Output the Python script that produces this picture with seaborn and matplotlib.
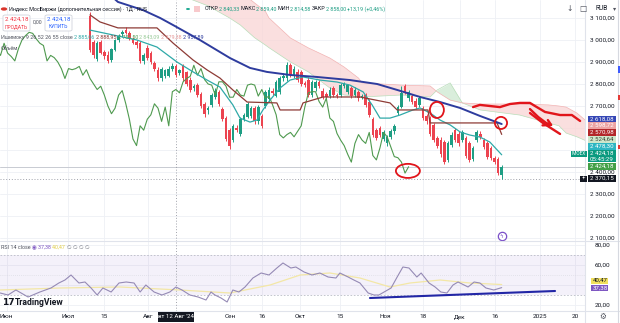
import matplotlib
matplotlib.use("Agg")
import matplotlib.pyplot as plt
from matplotlib.patches import Rectangle, Ellipse, FancyBboxPatch, Circle
import numpy as np
import pandas as pd
import seaborn as sns

sns.set_theme(style="white")
plt.rcParams["font.family"] = ["Roboto", "DejaVu Sans"]

# ---------------- daily candles (bar 0 = 9 Jul 2024, last bar = 18 Dec 2024)
opens = [3110, 2990, 2915, 2990, 2945, 2930, 2910, 2955, 3000, 3025,
         3045, 3030, 3005, 2990, 2985, 2905, 2965, 2940, 2895, 2865,
         2825, 2835, 2835, 2870, 2880, 2850, 2880, 2855, 2820, 2780,
         2795, 2755, 2710, 2680, 2705, 2740, 2765, 2685, 2645, 2590,
         2545, 2600, 2575, 2640, 2650, 2655, 2690, 2630, 2655, 2700,
         2730, 2770, 2745, 2765, 2825, 2825, 2885, 2835, 2855, 2855,
         2805, 2820, 2750, 2780, 2810, 2770, 2755, 2745, 2780, 2750,
         2750, 2790, 2765, 2780, 2750, 2765, 2740, 2750, 2720, 2640,
         2590, 2600, 2550, 2530, 2560, 2585, 2670, 2695, 2790, 2735,
         2745, 2725, 2705, 2690, 2655, 2645, 2615, 2555, 2545, 2535,
         2455, 2525, 2590, 2575, 2545, 2555, 2530, 2460, 2545, 2575,
         2545, 2530, 2510, 2465, 2460, 2385]
highs = [3125, 3000, 2995, 3000, 2955, 2950, 2965, 3005, 3025, 3045,
         3060, 3040, 3015, 3000, 2995, 2940, 2975, 2950, 2905, 2875,
         2875, 2870, 2880, 2895, 2890, 2870, 2890, 2860, 2830, 2800,
         2805, 2765, 2720, 2700, 2760, 2780, 2775, 2695, 2655, 2600,
         2620, 2615, 2650, 2670, 2720, 2700, 2700, 2705, 2665, 2775,
         2785, 2780, 2820, 2835, 2850, 2900, 2895, 2880, 2870, 2865,
         2815, 2830, 2820, 2820, 2820, 2780, 2765, 2785, 2790, 2760,
         2805, 2810, 2800, 2790, 2785, 2775, 2755, 2760, 2730, 2650,
         2600, 2610, 2590, 2570, 2595, 2620, 2705, 2790, 2800, 2775,
         2755, 2735, 2745, 2700, 2665, 2655, 2625, 2565, 2560, 2545,
         2540, 2580, 2600, 2585, 2590, 2565, 2540, 2520, 2590, 2585,
         2555, 2540, 2520, 2475, 2470, 2430]
lows = [2945, 2920, 2905, 2935, 2915, 2895, 2900, 2950, 2990, 3015,
        3025, 3000, 2980, 2965, 2895, 2890, 2910, 2890, 2860, 2815,
        2815, 2825, 2830, 2860, 2830, 2840, 2815, 2790, 2765, 2770,
        2740, 2690, 2650, 2665, 2695, 2730, 2700, 2630, 2540, 2505,
        2535, 2580, 2565, 2630, 2645, 2645, 2620, 2620, 2600, 2690,
        2720, 2750, 2740, 2755, 2815, 2815, 2830, 2825, 2810, 2790,
        2785, 2740, 2740, 2770, 2780, 2730, 2730, 2735, 2740, 2735,
        2740, 2780, 2755, 2735, 2740, 2725, 2730, 2695, 2650, 2560,
        2545, 2560, 2540, 2520, 2550, 2575, 2660, 2690, 2755, 2725,
        2710, 2685, 2695, 2635, 2620, 2565, 2535, 2510, 2470, 2435,
        2445, 2515, 2535, 2520, 2535, 2465, 2445, 2450, 2535, 2550,
        2505, 2460, 2455, 2435, 2385, 2370.15]
closes = [2955, 2930, 2985, 2940, 2925, 2905, 2960, 3000, 3020, 3035,
          3030, 3005, 2985, 2975, 2905, 2930, 2920, 2900, 2870, 2825,
          2870, 2865, 2870, 2880, 2840, 2865, 2825, 2800, 2775, 2790,
          2750, 2700, 2665, 2690, 2750, 2770, 2710, 2640, 2550, 2520,
          2610, 2590, 2640, 2660, 2710, 2690, 2630, 2695, 2610, 2765,
          2775, 2760, 2810, 2825, 2835, 2885, 2840, 2870, 2820, 2800,
          2795, 2750, 2810, 2810, 2790, 2740, 2740, 2775, 2750, 2745,
          2795, 2800, 2795, 2745, 2775, 2735, 2745, 2705, 2660, 2570,
          2555, 2570, 2580, 2560, 2585, 2610, 2695, 2760, 2765, 2765,
          2720, 2695, 2735, 2645, 2630, 2575, 2545, 2520, 2480, 2445,
          2530, 2570, 2545, 2530, 2580, 2475, 2455, 2510, 2580, 2560,
          2515, 2470, 2465, 2445, 2395, 2424.18]

# ---------------- Ichimoku (9, 26, 52) and the long moving average
tenkan_x = [0, 6.4, 13.1, 18.7, 24.3, 28.8, 32.7, 36.3, 39.9, 41.9, 44.7, 46.6,
            48.3, 50.3, 53.1, 55.9, 59.5, 64.2, 69.0, 72.6, 76.3, 78.8, 81.0,
            83.8, 86.6, 90.2, 92.2, 95.0, 97.8, 100.6, 103.4, 106.1, 108.9,
            111.7, 115]
tenkan_v = [3045, 3023, 3000, 2968, 2900, 2855, 2818, 2786, 2705, 2645, 2627, 2636,
            2682, 2727, 2782, 2818, 2832, 2818, 2809, 2795, 2764, 2705, 2645,
            2645, 2659, 2682, 2691, 2668, 2636, 2614, 2582, 2568, 2559,
            2536, 2478.30]
kijun_x = [0, 2.8, 7.8, 18.7, 23.2, 28.8, 32.7, 36.3, 39.9, 43.9, 52.2, 53.1,
           58.7, 59.5, 65.1, 75.4, 83.8, 85.8, 94.4, 95.0, 113.7, 115]
kijun_v = [3114, 3082, 3055, 3055, 2986, 2909, 2864, 2827, 2773, 2718, 2714, 2682,
           2682, 2714, 2741, 2741, 2714, 2682, 2682, 2623, 2623, 2570.98]
ma_x = [5.6, 7.8, 14.8, 19.6, 23.2, 30.7, 39.1, 44.7, 49.4, 55.9, 63.4, 72.6,
        80.2, 85.8, 92.2, 97.8, 103.4, 108.9, 115]
ma_v = [3205, 3173, 3136, 3100, 3068, 3000, 2918, 2873, 2855, 2841, 2832, 2818,
        2800, 2773, 2741, 2718, 2691, 2655, 2618.08]
cloud_x = [25, 33, 39, 42, 46, 49, 50, 56, 61, 67, 71, 75, 76, 87, 95, 97,
           100.6, 104, 109, 120, 128, 131, 133, 136, 141]
span_a = [3205, 3155, 3100, 3068, 3010, 2977, 2965, 2900, 2855, 2782, 2750, 2745,
          2741, 2750, 2741, 2773, 2805, 2714, 2682, 2659, 2623, 2610, 2577, 2560,
          2524.64]
span_b = [3364, 3290, 3250, 3220, 3168, 3130, 3100, 3009, 2964, 2918, 2877, 2827,
          2805, 2795, 2791, 2764, 2727, 2714, 2709, 2709, 2705, 2700, 2695, 2668,
          2598.72]
lag_shift = 26

# ---------------- RSI 14 and its moving average
rsi_x = [-25.1, -22.9, -20.7, -17.3, -14.0, -10.9, -8.7, -7.0, -5.3, -3.1, -1.4,
         0.3, 2.0, 3.6, 5.9, 8.1, 10.1, 12.3, 14.0, 15.6, 17.9, 20.1, 22.3, 24.0,
         25.7, 27.9, 30.2, 32.4, 33.8, 34.9, 36.6, 38.3, 39.9, 41.6, 43.3, 45.5,
         47.8, 50.0, 52.2, 53.9, 56.1, 57.5, 59.8, 62.0, 64.2, 66.5, 68.7, 69.8,
         72.1, 73.7, 75.4, 77.7, 79.3, 80.7, 84.1, 85.8, 87.4, 89.1, 91.3, 92.5,
         94.7, 96.4, 98.0, 99.7, 101.4, 102.8, 104.5, 105.6, 107.3, 108.9, 110.6,
         112.8, 115]
rsi_v = [32, 30, 35, 28, 33, 37, 42, 45, 50, 42, 43,
         37, 30, 37, 33, 42, 43, 42, 33, 40, 33, 30, 33, 38,
         35, 30, 28, 25, 33, 30, 27, 23, 35, 33, 38, 47,
         52, 50, 57, 62, 57, 58, 53, 50, 52, 48, 47, 52,
         48, 45, 42, 32, 30, 30, 37, 48, 58, 57, 48, 52,
         42, 38, 33, 32, 40, 43, 40, 38, 43, 42, 37,
         35, 37.38]
rsi_ma_x = [-25.1, -8.4, 8.4, 25.1, 39.1, 50.3, 58.7, 67.0, 75.4, 83.8, 89.4, 97.8,
            106.1, 115]
rsi_ma_v = [35, 37, 38, 35, 32, 40, 50, 52, 47, 38, 42, 45, 42, 40.47]
rsi_trend_x = [78.2, 129.9]
rsi_trend_v = [27, 34]

# ---------------- axis ticks
xtick_pos = [-23.3, -6.1, 3.9, 16.2, 39.1, 48.0, 58.7, 69.8, 82.4, 93.0, 103.4,
             113.1, 125.7, 135.5]
xtick_lab = ["Июн", "Июл", "15", "Авг", "Сен", "16", "Окт", "15", "Ноя", "18",
             "Дек", "16", "2025", "20"]
price_ticks = [3100, 3000, 2900, 2800, 2700, 2400, 2300, 2200, 2100]
rsi_ticks = [80, 60, 20]
cross_bar, cross_price = 24, 2370.15
last_price = 2424.18

# ---------------- hand-drawn marks on the chart
ring_c = [(96.9, 2682), (114.8, 2623), (88.8, 2405)]
ring_wh = [(3.9, 73), (3.4, 55), (6.7, 64)]
stroke1_x = [107.0, 108.9, 111.7, 114.5, 117.3, 120.1, 122.9, 124.3, 127.1, 131.3, 134.6, 136.9]
stroke1_v = [2695, 2705, 2700, 2695, 2709, 2714, 2714, 2700, 2673, 2659, 2659, 2632]
stroke2_x = [122.9, 125.2, 127.4, 128.8]
stroke2_v = [2686, 2650, 2623, 2614]
stroke3_x = [122.9, 126.5, 131.3]
stroke3_v = [2668, 2623, 2573]
arrow_x = [126.4, 128.8, 127.9]
arrow_v = [2612, 2614, 2636]

GREEN, RED = "#1E9E84", "#EC4450"
TXT = "#131722"
W, H = 620, 323
XMIN, XMAX = -25.14, 138.27

fig = plt.figure(figsize=(W / 100, H / 100), dpi=100)
fig.patch.set_facecolor("white")


def fx(x):
    return x / W


def fy(y):
    return 1 - y / H


def ftext(x, y, s, size=5.0, color=TXT, ha="left", va="center", weight="normal", z=6):
    return fig.text(fx(x), fy(y), s, fontsize=size, color=color, ha=ha, va=va,
                    fontweight=weight, zorder=z)


def fbox(x0, y0, x1, y1, fc, ec="none", lw=0.0, z=5):
    p = Rectangle((fx(x0), fy(y1)), fx(x1) - fx(x0), fy(y0) - fy(y1),
                  transform=fig.transFigure, fc=fc, ec=ec, lw=lw, zorder=z)
    fig.add_artist(p)


ax = fig.add_axes([0, fy(241), fx(585), 241 / H])
ax2 = fig.add_axes([0, fy(311), fx(585), 70 / H])
for a in (ax, ax2):
    a.set_xlim(XMIN, XMAX)
    a.set_axis_off()
ax.set_ylim(2086.4, 3181.8)
ax2.set_ylim(14, 84)

# grid
for p in xtick_pos:
    ax.axvline(p, color="#EEF0F5", lw=0.6, zorder=0)
    ax2.axvline(p, color="#EEF0F5", lw=0.6, zorder=0)
for p in range(2100, 3200, 100):
    ax.axhline(p, color="#EEF0F5", lw=0.6, zorder=0)
for p in (20, 40, 60, 80):
    ax2.axhline(p, color="#EEF0F5", lw=0.6, zorder=0)

# cloud
cx = np.array(cloud_x)
sa = np.array(span_a)
sb = np.array(span_b)
ax.fill_between(cx, sa, sb, where=sb >= sa, interpolate=True, color="#F9D5D5",
                alpha=0.75, lw=0, zorder=1)
ax.fill_between(cx, sa, sb, where=sa > sb, interpolate=True, color="#D4ECD6",
                alpha=0.85, lw=0, zorder=1)
sns.lineplot(x=cx, y=sa, ax=ax, color="#B9DDB9", lw=0.5, zorder=2, estimator=None, sort=False)
sns.lineplot(x=cx, y=sb, ax=ax, color="#F2B3B3", lw=0.5, zorder=2, estimator=None, sort=False)

# price line and crosshair
ax.axhline(last_price, color="#C8CBD2", lw=0.7, zorder=2)
ax.axhline(cross_price, color="#9598A1", lw=0.6, ls=(0, (1.2, 2.2)), zorder=2)
for a in (ax, ax2):
    a.axvline(cross_bar, color="#9598A1", lw=0.6, ls=(0, (1.2, 2.2)), zorder=2)

# candles
bars = np.arange(len(closes))
o = np.array(opens, float)
c = np.array(closes, float)
hi = np.array(highs, float)
lo = np.array(lows, float)
cols = np.where(c >= o, GREEN, RED)
ax.vlines(bars, lo, hi, colors=cols, lw=0.7, zorder=4)
ax.bar(bars, np.maximum(np.abs(c - o), 3), bottom=np.minimum(o, c), width=0.72,
       color=cols, lw=0, zorder=5)

# indicator lines
lag = pd.DataFrame({"x": bars - lag_shift, "v": c})
sns.lineplot(data=lag, x="x", y="v", ax=ax, color="#4F9A4F", lw=0.8, zorder=6, estimator=None, sort=False)
sns.lineplot(x=tenkan_x, y=tenkan_v, ax=ax, color="#2FA9A8", lw=0.9, zorder=6, estimator=None, sort=False)
sns.lineplot(x=kijun_x, y=kijun_v, ax=ax, color="#8E3B36", lw=0.9, zorder=6, estimator=None, sort=False)
sns.lineplot(x=ma_x, y=ma_v, ax=ax, color="#2E3C9E", lw=1.4, zorder=7, estimator=None, sort=False)

# hand-drawn marks
for (xc, yc), (w, h) in zip(ring_c, ring_wh):
    ax.add_patch(Ellipse((xc, yc), w, h, fill=False, ec="#E1151B", lw=1.3, zorder=8))
for sx, sv in ((stroke1_x, stroke1_v), (stroke2_x, stroke2_v), (stroke3_x, stroke3_v),
               (arrow_x, arrow_v)):
    ax.plot(sx, sv, color="#E1151B", lw=1.7, zorder=8, solid_capstyle="round",
            solid_joinstyle="round")

# events marker
ax.plot([115], [2109], marker="o", ms=6, mfc="white", mec="#7B4FC8", mew=0.9, zorder=9)
ax.text(115, 2109, "ϟ", color="#7B4FC8", fontsize=4, ha="center", va="center", zorder=10)

# RSI pane
ax2.fill_between([XMIN, XMAX], 30, 70, color="#7E57C2", alpha=0.08, lw=0, zorder=1)
for lvl in (70, 30):
    ax2.axhline(lvl, color="#B9BCC6", lw=0.6, ls=(0, (2, 2)), zorder=2)
ax2.axhline(50, color="#D3D5DC", lw=0.5, ls=(0, (1, 2)), zorder=2)
sns.lineplot(x=rsi_ma_x, y=rsi_ma_v, ax=ax2, color="#F3E7A6", lw=0.9, zorder=3, estimator=None, sort=False)
sns.lineplot(x=rsi_x, y=rsi_v, ax=ax2, color="#958AB5", lw=0.8, zorder=4, estimator=None, sort=False)
sns.lineplot(x=rsi_trend_x, y=rsi_trend_v, ax=ax2, color="#2226A6", lw=1.5, zorder=5, estimator=None, sort=False)
for a in (ax, ax2):
    if a.get_legend():
        a.get_legend().remove()

# pane separators
for yy in (241, 311):
    fig.add_artist(plt.Line2D([0, 1], [fy(yy), fy(yy)], transform=fig.transFigure, color="#E0E3EB", lw=0.8))
fig.add_artist(plt.Line2D([fx(585), fx(585)], [0, 1], transform=fig.transFigure, color="#E0E3EB", lw=0.8))
fig.add_artist(plt.Line2D([fx(617.5), fx(617.5)], [0, 1], transform=fig.transFigure, color="#D6D9E0", lw=0.8))


def num(v):
    return f"{v:,.2f}".replace(",", " ").replace(".", ",")


def ypx(a, v):
    return H - a.transData.transform((0, v))[1]


# right scale
for p in price_ticks:
    ftext(590, ypx(ax, p), num(p), size=4.6)
for p in rsi_ticks:
    ftext(595, ypx(ax2, p), num(p), size=4.6)

stack = [
    (119, num(ma_v[-1]), "#3446B5", "white"),
    (125.5, num(span_b[-1]), "#EDA3A3", "white"),
    (132.5, num(kijun_v[-1]), "#B3262A", "white"),
    (139.5, num(span_a[-1]), "#CFE6CB", "#3A4A3A"),
    (146.5, num(tenkan_v[-1]), "#2EB6C2", "white"),
    (166.5, num(closes[-1]), "#43A047", "white"),
    (178.5, num(cross_price), "#131722", "white"),
]
for yc, s, bg, fg in stack:
    fbox(588, yc - 3.2, 616, yc + 3.2, bg)
    ftext(590, yc, s, size=4.4, color=fg)
fbox(588, 150, 616, 162.3, "#0B9A7F")
ftext(590, 153, num(closes[-1]), size=4.4, color="white")
ftext(590, 159.2, "05:45:29", size=4.4, color="white")
fbox(571, 151, 587, 157, "#0B9A7F")
ftext(579, 154, "IMOEX", size=3.4, color="white", ha="center")
fbox(580, 175.5, 587, 181.5, "#131722")
ftext(583.5, 178.5, "+", size=4.5, color="white", ha="center")
fbox(591, 277.5, 608, 283.5, "#F1E05E")
ftext(593, 280.5, num(rsi_ma_v[-1]), size=4.4)
fbox(591, 285, 608, 291, "#7E57C2")
ftext(593, 288, num(rsi_v[-1]), size=4.4, color="white")

# edge markers
for y0, y1, col in ((66, 73, "#3D5AFE"), (95, 100, "#E53935"), (145, 149, "#E53935")):
    fbox(618, y0, 620, y1, col)

# time scale
for p, s in zip(xtick_pos, xtick_lab):
    xp = ax.transData.transform((p, 0))[0]
    ftext(xp, 316.5, s, size=4.6, ha="center")
xc = ax.transData.transform((cross_bar, 0))[0]
fbox(xc - 18, 311.5, xc + 18, 321.5, "#131722")
ftext(xc, 316.5, "вт 12 Авг '24", size=4.4, color="white", ha="center")
ftext(603, 316.5, "⚙", size=5.5, ha="center", color="#50535E")

# header
fig.add_artist(Circle((fx(4), fy(9)), 3.2 / W, transform=fig.transFigure, fc="#D9342B", ec="none"))
ftext(9, 9, "Индекс МосБиржи (дополнительная сессия) · 1Д · RUS", size=3.9)
fig.add_artist(Circle((fx(188), fy(9)), 2.0 / W, transform=fig.transFigure, fc="#22AB94", ec="none"))
fbox(194, 6, 200, 12, "#F8C9CC")
renderer = fig.canvas.get_renderer()
xcur = 205
for s, col in (("ОТКР", TXT), ("2 840,33 ", GREEN), ("МАКС", TXT), ("2 859,40 ", GREEN),
               ("МИН", TXT), ("2 814,58 ", GREEN), ("ЗАКР", TXT), ("2 858,00 ", GREEN),
               ("+13,19 (+0,46%)", GREEN)):
    t = ftext(xcur, 9, s, size=3.9, color=col)
    xcur += t.get_window_extent(renderer=renderer).width
ftext(570, 9, "↓", size=5.5, ha="center", color="#50535E")
ftext(583, 9, "□", size=5.5, ha="center", color="#50535E")
ftext(596, 9, "RUB", size=4.8)
ftext(613, 9, "▾", size=4.5, color="#50535E")

for x0, col, word in ((3, "#F23645", "ПРОДАТЬ"), (45, "#2962FF", "КУПИТЬ")):
    p = FancyBboxPatch((fx(x0), fy(31)), fx(27), 16 / H, boxstyle="round,pad=0,rounding_size=0.004",
                       transform=fig.transFigure, fc="white", ec="#D1D4DC", lw=0.6, zorder=5)
    fig.add_artist(p)
    ftext(x0 + 13.5, 19.5, num(closes[-1]), size=4.4, color=col, ha="center")
    ftext(x0 + 13.5, 26.5, word, size=3.6, color=col, ha="center")
ftext(38, 22, "0,00", size=3.8, ha="center", color="#50535E")

xcur = 1
for s, col in (("Ишимоку 9 26 52 26 55 close ", "#50535E"), ("2 885,06 ", "#2FA9A8"),
               ("2 888,95 ", "#8E3B36"), ("2 751,50 ", "#4F9A4F"), ("2 843,09 ", "#9ACB9A"),
               ("2 979,38 ", "#E79A9A"), ("2 957,89", "#2E3C9E")):
    t = ftext(xcur, 37, s, size=3.9, color=col)
    xcur += t.get_window_extent(renderer=renderer).width
ftext(1, 48, "Объём", size=4.0, color="#50535E")

xcur = 1
for s, col in (("RSI 14 close ", "#50535E"), ("◉ ", "#7E57C2"), ("37,38 ", "#7E57C2"),
               ("40,47 ", "#E2CF4A"), ("∅ ∅ ∅ ∅", "#787B86")):
    t = ftext(xcur, 247.5, s, size=3.9, color=col)
    xcur += t.get_window_extent(renderer=renderer).width

# logo
ftext(2, 302.5, "𝟭𝟳", size=6.5, weight="bold")
ftext(15, 302.5, "TradingView", size=6.2, weight="bold")

fig.savefig("out.png", dpi=100, facecolor="white")
